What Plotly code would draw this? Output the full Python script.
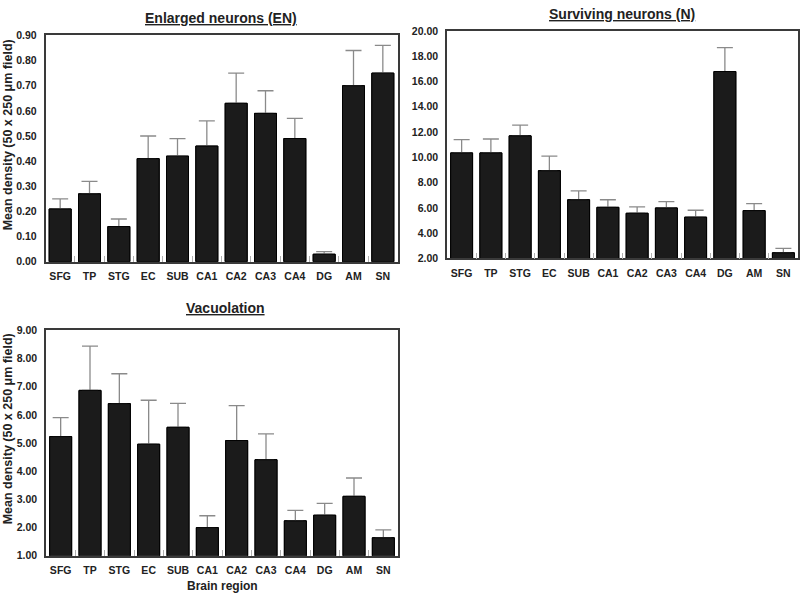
import plotly.graph_objects as go

regions = ["SFG", "TP", "STG", "EC", "SUB", "CA1", "CA2", "CA3", "CA4", "DG", "AM", "SN"]

en_mean = [0.21, 0.27, 0.14, 0.41, 0.42, 0.46, 0.63, 0.59, 0.49, 0.03, 0.70, 0.75]
en_err = [0.04, 0.05, 0.03, 0.09, 0.07, 0.10, 0.12, 0.09, 0.08, 0.01, 0.14, 0.11]

n_mean = [10.35, 10.35, 11.70, 8.94, 6.64, 6.04, 5.57, 5.99, 5.26, 16.79, 5.78, 2.44]
n_err = [1.05, 1.10, 0.85, 1.15, 0.70, 0.60, 0.50, 0.50, 0.55, 1.90, 0.55, 0.35]

vac_mean = [5.23, 6.87, 6.40, 4.96, 5.56, 2.00, 5.09, 4.41, 2.24, 2.44, 3.11, 1.64]
vac_err = [0.67, 1.57, 1.06, 1.56, 0.85, 0.42, 1.24, 0.92, 0.37, 0.42, 0.65, 0.28]

W, H = 800, 600
FONT = "Arial, Liberation Sans, sans-serif"
BAR = "#1b1b1b"
ERR = "#8a8a8a"
FRAME = "#3a3a3a"


def px_x(p):
    return p / W


def px_y(p):
    return 1 - p / H


panels = [
    # (mean, err, xdom px, ydom px (top,bottom), yrange, dtick)
    (en_mean, en_err, (45.5, 397.5), (30, 261), (0, 0.9), 0.1),
    (n_mean, n_err, (447, 798), (25.5, 257.5), (2, 20), 2),
    (vac_mean, vac_err, (46, 398), (331, 561), (1, 9), 1),
]

fig = go.Figure()
layout = {}
for i, (m, e, xd, yd, yr, dt) in enumerate(panels, start=1):
    xa = "x" if i == 1 else f"x{i}"
    ya = "y" if i == 1 else f"y{i}"
    # bars with one-sided error bars
    fig.add_trace(go.Bar(
        x=regions, y=m, xaxis=xa, yaxis=ya,
        marker=dict(color=BAR, line=dict(color="#000000", width=1)),
        width=0.75,
        error_y=dict(type="data", symmetric=False, array=e,
                     arrayminus=[0] * len(e), color=ERR, thickness=1.3, width=8),
        showlegend=False, hoverinfo="skip",
    ))
    # same bars on top, hiding the error-bar foot on the bar tops
    fig.add_trace(go.Bar(
        x=regions, y=m, xaxis=xa, yaxis=ya,
        marker=dict(color=BAR, line=dict(color="#000000", width=1)),
        width=0.75, showlegend=False,
    ))
    layout["xaxis" if i == 1 else f"xaxis{i}"] = dict(
        domain=[px_x(xd[0]), px_x(xd[1])], anchor=ya,
        type="category", showline=True, mirror=True, linecolor=FRAME, linewidth=1.5,
        ticks="inside", tickson="boundaries", ticklen=6, tickcolor="#b0b0b0", tickwidth=1,
        tickangle=0, ticklabelstandoff=4,
        tickfont=dict(family=FONT, size=10.5, color="#222", weight="bold"),
        showgrid=False, zeroline=False, fixedrange=True,
    )
    layout["yaxis" if i == 1 else f"yaxis{i}"] = dict(
        domain=[px_y(yd[1]), px_y(yd[0])], anchor=xa,
        range=list(yr), dtick=dt, tick0=yr[0], tickformat=".2f",
        showline=True, mirror=True, linecolor=FRAME, linewidth=1.5,
        ticks="", showgrid=False, zeroline=False, ticklabelstandoff=5,
        tickfont=dict(family=FONT, size=10.5, color="#222", weight="bold"),
        fixedrange=True,
    )

annotations = [
    dict(text="<u>Enlarged neurons (EN)</u>", x=px_x(221), y=px_y(12)),
    dict(text="<u>Surviving neurons (N)</u>", x=px_x(622), y=px_y(8)),
    dict(text="<u>Vacuolation</u>", x=px_x(225), y=px_y(308)),
]
annos = []
for a in annotations:
    annos.append(dict(text=a["text"], x=a["x"], y=a["y"], xref="paper", yref="paper",
                      xanchor="center", yanchor="middle", showarrow=False,
                      font=dict(family=FONT, size=14, color="#222", weight="bold")))

ytitle = "Mean density (50 x 250 \u03bcm field)"
for yc in (132, 432):
    annos.append(dict(text=ytitle, x=px_x(8), y=px_y(yc), xref="paper", yref="paper",
                      xanchor="center", yanchor="middle", textangle=-90, showarrow=False,
                      font=dict(family=FONT, size=12.5, color="#222", weight="bold")))

annos.append(dict(text="Brain region", x=px_x(222), y=px_y(592), xref="paper", yref="paper",
                  xanchor="center", yanchor="middle", showarrow=False,
                  font=dict(family=FONT, size=12, color="#222", weight="bold")))

fig.update_layout(
    width=W, height=H,
    margin=dict(l=0, r=0, t=0, b=0),
    paper_bgcolor="white", plot_bgcolor="white",
    barmode="overlay",
    annotations=annos,
    **layout,
)

fig.write_html(
    "out.html",
    config={"displayModeBar": False},
    post_script="document.body.style.margin='0';document.body.style.overflow='hidden';",
)
